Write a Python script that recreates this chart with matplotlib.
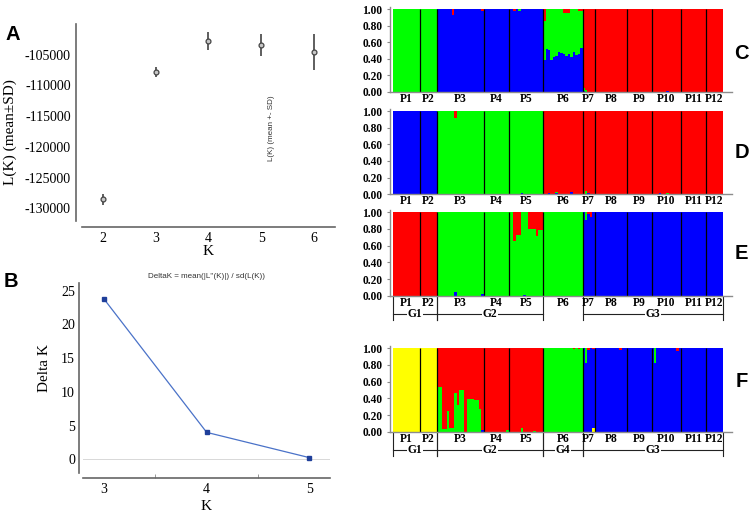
import numpy as np
import matplotlib.pyplot as plt

plt.rcParams['font.family'] = ['Liberation Serif', 'DejaVu Serif']

## data
# panel A: L(K) mean +- sd
lk_k = [2, 3, 4, 5, 6]
lk_mean = [-128500, -107800, -102800, -103400, -104600]
lk_sd = [900, 800, 1500, 1750, 2900]

# panel B: delta K
dk_k = [3, 4, 5]
dk_val = [23.8, 4.0, 0.25]

# structure bar plots
pops = ['P1', 'P2', 'P3', 'P4', 'P5', 'P6', 'P7', 'P8', 'P9', 'P10', 'P11', 'P12']
pop_n = [11, 7, 19, 10, 14, 16, 5, 13, 10, 12, 10, 7]

cols = {'blue': '#0000ff', 'green': '#00ff00', 'red': '#ff0000', 'yellow': '#ffff00'}

# K=3 (C)
c_order = ['blue', 'green', 'red']
c_main = ['green', 'green', 'blue', 'blue', 'blue', 'green',
          'red', 'red', 'red', 'red', 'red', 'red']
c_p6_blue = [0.38, 0.52, 0.51, 0.39, 0.42, 0.43, 0.48, 0.47,
             0.46, 0.43, 0.46, 0.42, 0.48, 0.45, 0.46, 0.53]
c_p6_red = [0.15, 0, 0, 0, 0, 0, 0, 0, 0.05, 0.05, 0.05, 0, 0, 0, 0.02, 0.02]
c_mix = [(2, 6, 'red', 0.07), (2, 18, 'red', 0.02), (4, 2, 'red', 0.02),
         (4, 4, 'green', 0.03), (6, 0, 'green', 0.04), (6, 0, 'blue', 0.01),
         (6, 1, 'green', 0.02), (9, 6, 'blue', 0.01)]
for i in range(len(c_p6_blue)):
    c_mix.append((5, i, 'blue', c_p6_blue[i]))
    c_mix.append((5, i, 'red', c_p6_red[i]))

# K=3 (D)
d_order = ['blue', 'green', 'red']
d_main = ['blue', 'blue', 'green', 'green', 'green', 'red',
          'red', 'red', 'red', 'red', 'red', 'red']
d_mix = [(2, 7, 'red', 0.08), (4, 5, 'blue', 0.01), (5, 2, 'blue', 0.01),
         (5, 5, 'blue', 0.02), (5, 5, 'green', 0.01), (5, 11, 'blue', 0.03),
         (6, 1, 'green', 0.04), (6, 2, 'blue', 0.01), (9, 3, 'blue', 0.01),
         (9, 6, 'green', 0.01)]

# K=3 (E)
e_order = ['blue', 'green', 'red']
e_main = ['red', 'red', 'green', 'green', 'green', 'green',
          'blue', 'blue', 'blue', 'blue', 'blue', 'blue']
e_mix = [(2, 7, 'blue', 0.05), (2, 18, 'blue', 0.02),
         (4, 2, 'red', 0.34), (4, 3, 'red', 0.27), (4, 4, 'red', 0.27),
         (4, 6, 'blue', 0.01), (4, 8, 'red', 0.20), (4, 9, 'red', 0.20),
         (4, 10, 'red', 0.20), (4, 11, 'red', 0.28), (4, 12, 'red', 0.21),
         (4, 13, 'red', 0.21), (6, 1, 'green', 0.09), (6, 2, 'red', 0.02),
         (6, 3, 'red', 0.06)]

# K=4 (F)
f_order = ['yellow', 'blue', 'green', 'red']
f_main = ['yellow', 'yellow', 'red', 'red', 'red', 'green',
          'blue', 'blue', 'blue', 'blue', 'blue', 'blue']
f_p3_green = [0.54, 0.54, 0.03, 0.03, 0.25, 0.04, 0.04, 0.47, 0.32, 0.50,
              0.50, 0, 0.39, 0.39, 0.39, 0.38, 0.38, 0.27, 0]
f_mix = [(2, 18, 'blue', 0.02), (3, 9, 'green', 0.02), (4, 5, 'green', 0.04),
         (4, 10, 'green', 0.01), (5, 12, 'red', 0.01), (5, 14, 'red', 0.01),
         (6, 1, 'green', 0.18), (6, 2, 'red', 0.02), (6, 4, 'yellow', 0.05),
         (6, 4, 'red', 0.01), (7, 10, 'red', 0.02), (9, 1, 'green', 0.18),
         (9, 10, 'red', 0.03)]
for i in range(len(f_p3_green)):
    f_mix.append((2, i, 'green', f_p3_green[i]))

groups_e = [('G1', 0, 2), ('G2', 2, 5), ('G3', 6, 12)]
groups_f = [('G1', 0, 2), ('G2', 2, 5), ('G4', 5, 6), ('G3', 6, 12)]

## figure
W, H = 754, 514
fig = plt.figure(figsize=(W / 100, H / 100), dpi=100)


def px_axes(x0, y0, x1, y1):
    return fig.add_axes([x0 / W, 1 - y1 / H, (x1 - x0) / W, (y1 - y0) / H])


def letter(x, y, s):
    fig.text(x / W, 1 - y / H, s, ha='center', va='center', fontsize=14.5,
             fontweight='bold', family='Liberation Sans')


# panel A
axA = px_axes(81.7, 24, 335, 220.7)
axA.errorbar(lk_k, lk_mean, yerr=lk_sd, fmt='o', ms=3.5, mfc='#c8c8c8',
             mec='#444444', mew=0.9, ecolor='#333333', elinewidth=1.1, capsize=0)
axA.set_xlim(1.6, 6.4)
axA.set_ylim(-132000, -100000)
axA.set_xticks(lk_k)
axA.set_xticklabels([str(k) for k in lk_k])
yt = [-130000, -125000, -120000, -115000, -110000, -105000]
axA.set_yticks(yt)
axA.set_yticklabels([str(v) for v in yt])
axA.tick_params(length=0, labelsize=10)
axA.tick_params(axis='y', pad=3.8)
axA.tick_params(axis='x', pad=3.6)
for s in ['top', 'right']:
    axA.spines[s].set_visible(False)
axA.spines['left'].set_position(('outward', 4.1))
axA.spines['bottom'].set_position(('outward', 4.3))
for s in ['left', 'bottom']:
    axA.spines[s].set_color('#666666')
    axA.spines[s].set_linewidth(1.2)
fig.text(10 / W, 1 - 131.7 / H, 'L(K) (mean\u00b1SD)', rotation=90,
         ha='center', va='center', fontsize=11)
fig.text(208 / W, 1 - 251.7 / H, 'K', ha='center', va='center', fontsize=11)
fig.text(271.7 / W, 1 - 128 / H, 'L(K) (mean +- SD)', rotation=90, ha='center',
         va='center', fontsize=5.8, family='Liberation Sans', color='#333333')
letter(12.5, 35, 'A')

# panel B
axB = px_axes(83.3, 283.3, 330, 473.3)
axB.axhline(0, color='#d8d8d8', lw=0.7, zorder=1)
axB.plot(dk_k, dk_val, '-', color='#4a72c8', lw=0.9, zorder=2)
axB.plot(dk_k, dk_val, 's', color='#1f3f9a', ms=2.2, zorder=3)
axB.set_xlim(2.8, 5.2)
axB.set_ylim(-2.07, 26.1)
axB.set_xticks(dk_k)
axB.set_xticks([3.5, 4.5], minor=True)
axB.set_yticks([0, 5, 10, 15, 20, 25])
axB.tick_params(which='major', length=0, labelsize=10)
axB.tick_params(which='minor', direction='in', length=3, color='#888888')
axB.tick_params(axis='y', pad=2.9)
axB.tick_params(axis='x', pad=3.6)
for s in ['top', 'right']:
    axB.spines[s].set_visible(False)
axB.spines['left'].set_position(('outward', 3.1))
axB.spines['bottom'].set_position(('outward', 3.6))
for s in ['left', 'bottom']:
    axB.spines[s].set_color('#666666')
    axB.spines[s].set_linewidth(1.2)
fig.text(44 / W, 1 - 368 / H, 'Delta K', rotation=90, ha='center', va='center',
         fontsize=11)
fig.text(206 / W, 1 - 506.7 / H, 'K', ha='center', va='center', fontsize=11)
fig.text(206.7 / W, 1 - 276.7 / H, "DeltaK = mean(|L''(K)|) / sd(L(K))",
         ha='center', va='center', fontsize=5.8, family='Liberation Sans',
         color='#333333')
letter(11, 281.7, 'B')

# structure panels
starts = np.cumsum([0] + pop_n)
n_ind = starts[-1]


def structure(y_top, y_bot, order, main, mix, groups=None):
    h = y_bot - y_top
    ax = px_axes(390, y_top - 0.025 * h, 732, y_bot)
    q = np.zeros((n_ind, len(order)))
    for p in range(len(pops)):
        q[starts[p]:starts[p + 1], order.index(main[p])] = 1.0
    for p, i, cl, v in mix:
        row = starts[p] + i
        q[row, order.index(cl)] += v
        q[row, order.index(main[p])] -= v
    x = np.arange(n_ind) + 0.5
    bottom = np.zeros(n_ind)
    for j, cl in enumerate(order):
        ax.bar(x, q[:, j], width=1.0, bottom=bottom, color=cols[cl],
               linewidth=0, antialiased=False)
        bottom += q[:, j]
    ax.vlines(starts[1:-1], 0, 1, color='black', lw=0.9)
    ax.set_xlim(-1.1, 137.65)
    ax.set_ylim(0, 1.025)
    ax.set_xticks([])
    ax.set_yticks([0, 0.2, 0.4, 0.6, 0.8, 1.0])
    ax.set_yticklabels(['0.00', '0.20', '0.40', '0.60', '0.80', '1.00'],
                       fontweight='bold')
    ax.tick_params(axis='y', length=2.5, width=0.8, color='#888888',
                   labelsize=8.3, pad=3)
    for s in ['top', 'right']:
        ax.spines[s].set_visible(False)
    for s in ['left', 'bottom']:
        ax.spines[s].set_color('#8c8c8c')
        ax.spines[s].set_linewidth(1.0)
    for p in range(len(pops)):
        ax.text((starts[p] + starts[p + 1]) / 2, -0.085, pops[p], ha='center',
                va='center', fontsize=8.3, fontweight='bold', clip_on=False)
    if groups:
        yl = -13.0 / h * 1.0 - 0.06
        yb = yl - 0.08
        for name, a, b in groups:
            xa, xb = starts[a], starts[b]
            ax.plot([xa, xb], [yl, yl], color='#222222', lw=0.8, clip_on=False)
            ax.plot([xa, xa], [0, yb], color='#222222', lw=0.8, clip_on=False)
            ax.plot([xb, xb], [0, yb], color='#222222', lw=0.8, clip_on=False)
            ax.text((xa + xb) / 2, yl, name, ha='center', va='center',
                    fontsize=8.3, fontweight='bold', clip_on=False,
                    bbox=dict(facecolor='white', edgecolor='none', pad=0.6))
    return ax


structure(9, 92, c_order, c_main, c_mix)
structure(111, 194.3, d_order, d_main, d_mix)
structure(212.3, 295.7, e_order, e_main, e_mix, groups_e)
structure(348.3, 431.7, f_order, f_main, f_mix, groups_f)

letter(741.7, 53.5, 'C')
letter(741.7, 152.5, 'D')
letter(741.7, 253.5, 'E')
letter(741.7, 381.7, 'F')

fig.savefig('out.png', dpi=100)
